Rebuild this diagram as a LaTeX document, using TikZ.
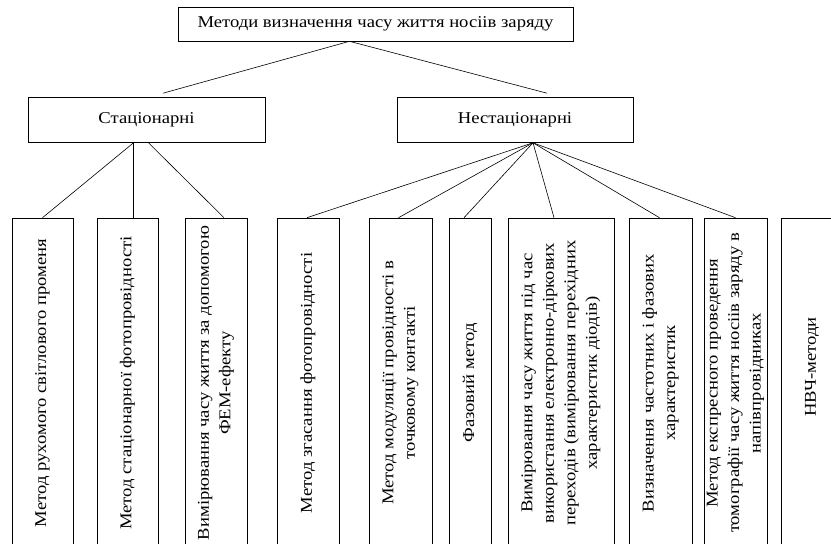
\documentclass[tikz,border=0pt]{standalone}
\usepackage{fontspec}
\setmainfont[FakeStretch=1.13]{Liberation Serif}
\usepackage{tikz}
\usetikzlibrary{positioning,calc}

\tikzset{
  box/.style={draw, line width=0.6pt, inner sep=0pt, font=\fontsize{16.5}{21.5}\selectfont},
  leaf/.style={box, rotate=90, minimum width=330pt, align=center},
  link/.style={line width=0.6pt}
}

\begin{document}
\begin{tikzpicture}[x=1pt,y=-1pt]
  \clip (0,0) rectangle (831,544);
  \node[box, minimum width=395pt, minimum height=34pt] (root) at (375.5,24) {Методи визначення часу життя носіів заряду};
  \node[box, minimum width=237pt, minimum height=45pt] (stat) at (146.5,120) {Стаціонарні};
  \node[box, minimum width=236pt, minimum height=45pt] (nestat) at (515,120) {Нестаціонарні};

  \node[leaf, minimum height=61pt] (m1) at (42.5,383) {Метод рухомого світлового променя};
  \node[leaf, minimum height=61pt] (m2) at (127.5,383) {Метод стаціонарної фотопровідності};
  \node[leaf, minimum height=62pt] (m3) at (216,383) {Вимірювання часу життя за допомогою\\ФЕМ-ефекту};
  \node[leaf, minimum height=62pt] (m4) at (308,383) {Метод згасання фотопровідності};
  \node[leaf, minimum height=63pt] (m5) at (400.5,383) {Метод модуляції провідності в\\точковому контакті};
  \node[leaf, minimum height=42pt] (m6) at (470,383) {Фазовий метод};
  \node[leaf, minimum height=106pt] (m7) at (561,383) {Вимірювання часу життя під час\\використання електронно-діркових\\переходів (вимірювання перехідних\\характеристик діодів)};
  \node[leaf, minimum height=63pt] (m8) at (660.5,383) {Визначення частотних і фазових\\характеристик};
  \node[leaf, minimum height=63pt] (m9) at (735.5,383) {Метод експресного проведення\\томографії часу життя носіів заряду в\\напівпровідниках};
  \node[leaf, minimum height=62pt] (m10) at (812,383) {\hspace*{32pt}НВЧ-методи}; % текст вище центру

  \draw[link] ([xshift=-26pt]root.south) -- ([xshift=16.5pt,yshift=4pt]stat.north);
  \draw[link] ([xshift=-26pt]root.south) -- ([xshift=32pt,yshift=4pt]nestat.north);

  \draw[link] ([xshift=-13pt]stat.south) -- (m1.east);
  \draw[link] ([xshift=-13pt]stat.south) -- ([xshift=6pt]m2.east);
  \draw[link] ([xshift=2pt]stat.south) -- ([xshift=8pt]m3.east);

  \foreach \m/\dx in {m4/-1,m5/-2,m6/-6,m7/-7,m8/-1,m9/0}
    \draw[link] ([xshift=18pt]nestat.south) -- ([xshift=\dx pt]\m.east);
\end{tikzpicture}
\end{document}
